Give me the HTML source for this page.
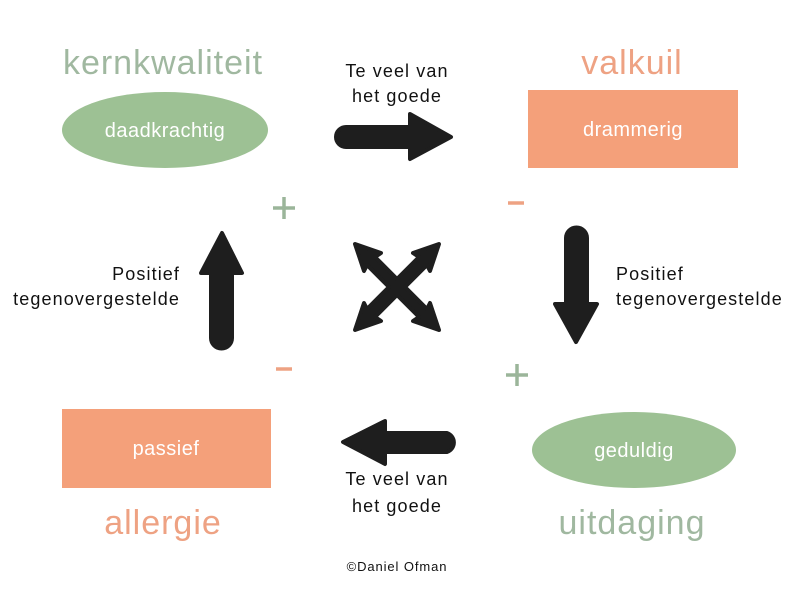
<!DOCTYPE html>
<html><head><meta charset="utf-8"><style>
html,body{margin:0;padding:0;background:#fff;}
svg{display:block;font-family:"Liberation Sans","DejaVu Sans",sans-serif;}
</style></head><body>
<svg width="800" height="600" viewBox="0 0 800 600">
<rect width="800" height="600" fill="#fff"/>
<text x="163" y="74" font-size="34" fill="#a0b8a0" text-anchor="middle" letter-spacing="1">kernkwaliteit</text>
<text x="632" y="74" font-size="34" fill="#eea283" text-anchor="middle" letter-spacing="1">valkuil</text>
<text x="163" y="534" font-size="34" fill="#eea283" text-anchor="middle" letter-spacing="1">allergie</text>
<text x="632" y="534" font-size="34" fill="#a0b8a0" text-anchor="middle" letter-spacing="1">uitdaging</text>
<ellipse cx="165" cy="130" rx="103" ry="38" fill="#9dc194"/>
<text x="165" y="137" font-size="20" fill="#fff" text-anchor="middle" letter-spacing="0.5">daadkrachtig</text>
<rect x="528" y="90" width="210" height="78" fill="#f4a07a"/>
<text x="633" y="136" font-size="20" fill="#fff" text-anchor="middle" letter-spacing="0.5">drammerig</text>
<rect x="62" y="409" width="209" height="79" fill="#f4a07a"/>
<text x="166" y="455" font-size="20" fill="#fff" text-anchor="middle" letter-spacing="0.5">passief</text>
<ellipse cx="634" cy="450" rx="102" ry="38" fill="#9dc194"/>
<text x="634" y="457" font-size="20" fill="#fff" text-anchor="middle" letter-spacing="0.5">geduldig</text>
<g font-size="18" fill="#111" letter-spacing="1.1">
<text x="397" y="77" text-anchor="middle">Te veel van</text>
<text x="397" y="102" text-anchor="middle">het goede</text>
<text x="397" y="485" text-anchor="middle">Te veel van</text>
<text x="397" y="512" text-anchor="middle">het goede</text>
<text x="180" y="280" text-anchor="end">Positief</text>
<text x="180" y="305" text-anchor="end">tegenovergestelde</text>
<text x="616" y="280">Positief</text>
<text x="616" y="305">tegenovergestelde</text>
</g>
<text x="397" y="571" font-size="13" fill="#111" text-anchor="middle" letter-spacing="0.9">©Daniel Ofman</text>
<g stroke-width="3.5">
<path d="M273 208h22M284 197v22" stroke="#9bb59a"/>
<path d="M508 203h16" stroke="#eea283"/>
<path d="M276 369h16" stroke="#eea283"/>
<path d="M506 375h22M517 364v22" stroke="#9bb59a"/>
</g>
<g fill="#1e1e1e" stroke="#1e1e1e" stroke-linejoin="round" stroke-width="4">
<path d="M346 127 H410 V114 L451 137 L410 159 V147 H346 A10 10 0 0 1 346 127Z"/>
<path d="M447 433 H385 V421 L343 442 L385 464 V452 H447 A10 10 0 0 0 447 433Z"/>
<path d="M211 338 V273 H201 L222 233 L242 273 H232 V338 A10 10 0 0 1 211 338Z"/>
<path d="M566 238 V304 H555 L576 342 L597 304 H587 V238 A10 10 0 0 0 566 238Z"/>
<g transform="translate(397 287)">
<path d="M-8 0 L-30 -22 L-33 -16 L-42 -43 L-16 -34 L-22 -30 L0 -8 L22 -30 L16 -34 L42 -43 L33 -16 L30 -22 L8 0 L30 22 L33 16 L42 43 L16 34 L22 30 L0 8 L-22 30 L-16 34 L-42 43 L-33 16 L-30 22Z"/>
</g>
</g>
</svg>
</body></html>
